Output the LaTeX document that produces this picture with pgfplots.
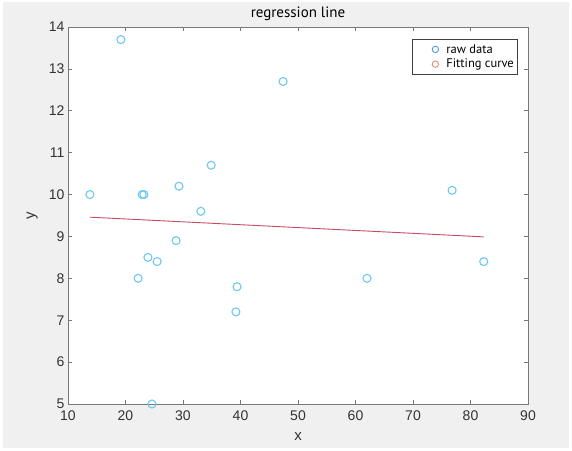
\documentclass[border=0pt]{standalone}
\usepackage{fontspec}
\setmainfont{Liberation Sans}
\newfontfamily\labfont{PT Sans}
\usepackage{pgfplots}
\pgfplotsset{compat=1.18}

\definecolor{figbg}{RGB}{240,240,240}
\definecolor{ptblue}{RGB}{110,200,240}
\definecolor{fitred}{RGB}{200,75,95}
\definecolor{legblue}{RGB}{80,155,220}
\definecolor{legorange}{RGB}{232,140,110}
\definecolor{axgray}{RGB}{120,120,120}

% legend marker with extra room on its left, as in the MATLAB legend
\pgfplotsset{padmark/.style={legend image code/.code={%
  \path (-0.78cm,0) (0.3cm,0); \draw[##1] plot coordinates {(0cm,0cm)};}}}

\begin{document}
\begin{tikzpicture}
\path[use as bounding box] (0,0) rectangle (572pt,450pt);
\fill[white] (0,0) rectangle (572pt,450pt);
\fill[figbg] (3pt,2pt) rectangle (569pt,448pt);
\begin{axis}[
  at={(68pt,46pt)}, anchor=south west,
  scale only axis, width=460pt, height=377pt,
  xmin=10, xmax=90, ymin=5, ymax=14,
  xtick={10,20,...,90}, ytick={5,6,...,14},
  tick align=inside, xtick pos=both, ytick pos=both,
  major tick length=4pt,
  tick style={axgray, line width=0.6pt},
  axis line style={axgray, line width=0.8pt},
  axis background/.style={fill=white},
  /pgf/number format/assume math mode=true,
  tick label style={font=\fontsize{14}{16}\selectfont, text=black!80},
  xticklabel style={yshift=-3.5pt},
  title={\labfont regression line},
  title style={font=\fontsize{15}{16}\selectfont, at={(axis description cs:0.5,1)}, anchor=south, yshift=-3pt},
  xlabel={x}, ylabel={y},
  label style={font=\fontsize{15}{17}\selectfont, text=black!80},
  xlabel style={at={(axis description cs:0.5,-0.0875)}, anchor=center},
  ylabel style={at={(axis description cs:-0.078,0.5)}, anchor=center},
  legend style={at={(0.976,0.968)}, anchor=north east, draw=black!75,
    font=\labfont\fontsize{12.5}{14}\selectfont, inner xsep=1pt, inner ysep=3pt,
    row sep=0.5pt, fill=white},
  legend cell align=left,
]
\addplot[only marks, mark=o, mark size=4pt, color=ptblue, line width=1.1pt, forget plot]
  coordinates {
  (13.8,10.0) (19.2,13.7) (22.9,10.0) (23.2,10.0) (22.2,8.0) (23.9,8.5)
  (25.5,8.4) (24.6,5.0) (28.8,8.9) (29.3,10.2) (33.1,9.6) (34.9,10.7)
  (39.2,7.2) (39.4,7.8) (47.4,12.7) (62.0,8.0) (76.8,10.1) (82.3,8.4)
  };
\addplot[color=fitred, line width=0.9pt, forget plot]
  coordinates {(13.8,9.46) (82.3,8.99)};
\addlegendimage{only marks, mark=o, mark size=3.2pt, color=legblue, line width=0.9pt, padmark}
\addlegendentry{raw data}
\addlegendimage{only marks, mark=o, mark size=3.2pt, color=legorange, line width=0.9pt, padmark}
\addlegendentry{Fitting curve}
\end{axis}
\end{tikzpicture}
\end{document}
